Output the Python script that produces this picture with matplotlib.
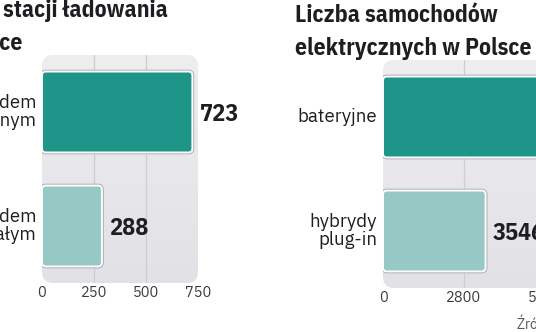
import numpy as np
import matplotlib
matplotlib.use("Agg")
import matplotlib.pyplot as plt
from matplotlib.patches import FancyBboxPatch

# dane
left_title = "Liczba stacji ładowania\nw Polsce"
left_labels = ["z prądem\nzmiennym", "z prądem\nstałym"]
left_values = [723, 288]
left_ticks = [0, 250, 500, 750]

right_title = "Liczba samochodów\nelektrycznych w Polsce"
right_labels = ["bateryjne", "hybrydy\nplug-in"]
right_values = [7880, 3546]
right_ticks = [0, 2800, 5600, 8400]

source = "Źródło: PSPA"

colors = ["#1e9589", "#96c8c6"]
BG_TOP = "#eeeef1"
BG_BOT = "#e2e2e6"
GRID = "#cdcdd2"
TXT = "#1e1e22"

TITLE_FONT = ["IBM Plex Sans Condensed", "DejaVu Sans"]
LABEL_FONT = ["IBM Plex Sans", "DejaVu Sans"]

W, H = 536, 332
fig = plt.figure(figsize=(W / 100, H / 100), dpi=100)
fig.patch.set_facecolor("white")


def px_axes(left, top, width, height):
    return fig.add_axes([left / W, 1 - (top + height) / H, width / W, height / H])


def draw_panel(ax, title, labels, values, ticks, width_px, height_px, title_dx):
    xmax = ticks[-1]
    ax.set_xlim(0, xmax)
    ax.set_ylim(1.5, -0.5)
    ax.axis("off")
    xpp = xmax / width_px          # jednostki x na piksel
    ypp = 2.0 / height_px          # jednostki y na piksel
    aspect = ypp / xpp

    # tlo z zaokraglonymi rogami i gradientem
    bg = FancyBboxPatch((0, -0.5), xmax, 2.0,
                        boxstyle=f"round,pad=0,rounding_size={11 * xpp}",
                        mutation_aspect=aspect, facecolor="none",
                        edgecolor="none", transform=ax.transData)
    ax.add_patch(bg)
    grad = np.linspace(0, 1, 64).reshape(-1, 1)
    cmap = matplotlib.colors.LinearSegmentedColormap.from_list("bg", [BG_TOP, BG_BOT])
    im = ax.imshow(grad, cmap=cmap, extent=(0, xmax, 1.5, -0.5),
                   aspect="auto", zorder=0)
    im.set_clip_path(bg)

    for t in ticks[1:-1]:
        ax.axvline(t, color=GRID, lw=0.9, zorder=1)

    bars = ax.barh(range(len(values)), values, height=0.71, alpha=0)
    for i, b in enumerate(bars):
        x0, y0, w, h = b.get_x(), b.get_y(), b.get_width(), b.get_height()
        for ec, lw, z in [("#a4a4a8", 2.6, 2), ("white", 1.4, 3)]:
            p = FancyBboxPatch((x0, y0), w, h,
                               boxstyle=f"round,pad=0,rounding_size={4 * xpp}",
                               mutation_aspect=aspect, facecolor=colors[i],
                               edgecolor=ec, lw=lw, zorder=z)
            ax.add_patch(p)
        ax.annotate(f"{values[i]}", (w, i), xytext=(7, 0),
                    textcoords="offset pixels", ha="left", va="center_baseline",
                    fontsize=17.5, fontweight="bold", color=TXT,
                    family=TITLE_FONT, annotation_clip=False)
        ax.annotate(labels[i], (0, i), xytext=(-6, 0),
                    textcoords="offset pixels", ha="right", va="center",
                    fontsize=13.5, color=TXT, family=LABEL_FONT,
                    linespacing=1.0, annotation_clip=False)

    for t in ticks:
        ax.annotate(f"{t}", (t, 1.5), xytext=(0, -3),
                    textcoords="offset pixels", ha="center", va="top",
                    fontsize=10.5, color="#3a3a3e", family=LABEL_FONT,
                    annotation_clip=False)

    ax.annotate(title, (0, -0.5), xytext=(title_dx, 0),
                textcoords="offset pixels", xycoords="data",
                ha="left", va="bottom", fontsize=17, fontweight="bold",
                color=TXT, family=TITLE_FONT, linespacing=1.55,
                annotation_clip=False)


ax1 = px_axes(42, 55, 156, 228)
draw_panel(ax1, left_title, left_labels, left_values, left_ticks, 156, 228, -109)

ax2 = px_axes(383, 60, 243, 228)
draw_panel(ax2, right_title, right_labels, right_values, right_ticks, 243, 228, -88)

fig.text(517 / W, 1 - 329 / H, source, ha="left", va="baseline",
         fontsize=10, color="#55555a", family=LABEL_FONT)

fig.savefig("out.png", dpi=100)
